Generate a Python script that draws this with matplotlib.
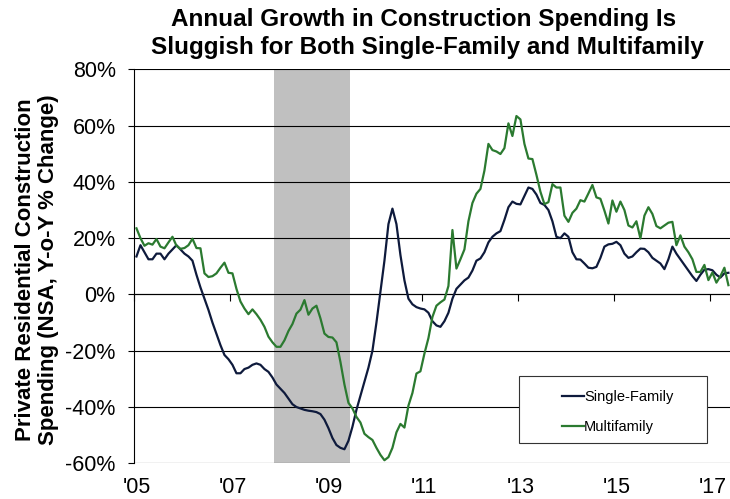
import numpy as np
import matplotlib
matplotlib.use("Agg")
import matplotlib.pyplot as plt
from matplotlib.patches import Rectangle

plt.rcParams["font.family"] = ["Liberation Sans", "DejaVu Sans"]

# Monthly y-o-y % change, Jan 2005 - May 2017
start_year = 2005
single_family = [
    13.5, 17.5, 15, 12.5, 12.5, 14.5, 14.5, 12.5, 14.5, 16,
    17.5, 16, 14.5, 13.5, 12, 7, 2.5, -1.5, -5.5, -10,
    -14, -18, -21.5, -23, -25, -28, -28, -26.5, -26, -25,
    -24.5, -25, -26.5, -27.5, -29.5, -32, -33.5, -35, -37,
    -39, -40, -40.5, -41, -41.3, -41.5, -41.8, -42.5, -44.5, -47.5,
    -51, -53.5, -54.5, -55, -52, -47, -41, -36, -31, -26,
    -20, -10, 1, 12, 25, 30.5, 25, 14, 5, -1.5,
    -3.5, -4.5, -5, -5.3, -6.5,
    -9.5, -11, -11.5, -9.5, -6.5, -1.5, 2, 3.5, 5, 6,
    8.5, 12, 12.8, 15, 18.5, 20.5, 21.7, 22.5, 26.5, 31,
    33, 32.2, 32, 35, 38, 37.5, 35.5, 32.5, 31.8, 30,
    26, 20.5, 20, 21.7, 20.5, 15, 12.5, 12.4, 11, 9.5,
    9.3, 9.8, 13, 17, 17.8, 18, 18.7,
    17.5, 14.5, 13, 13.5, 15, 16.3, 16.2, 15, 13, 12,
    11, 9, 12.5, 17, 14.5, 12.5, 10.5, 8.5, 6.5, 4.8,
    7, 8.8, 9, 8.6, 7, 6, 7.5, 7.7,
]
multifamily = [
    23.5, 20, 17.3, 18.2, 17.7, 19.7, 17, 16.4, 18.5, 20.5,
    17.3, 16.2, 16.5, 17.5, 19.8, 16.5, 16.4, 7.5, 6.2, 6.5,
    7.5, 9.5, 11.3, 7.7, 7.5, 2, -2.5, -5, -7, -5.3,
    -7, -9, -11.5, -15, -17, -18.6, -18.6, -16.3, -13, -10.5,
    -6.8, -5.4, -2, -7.2, -5, -4, -8.5, -13.9, -15.1, -15.3,
    -17, -24, -32, -38.5, -40.5, -43.5, -45.5, -49.5, -50.7, -51.7,
    -54.5, -57, -58.9, -57.8, -54.5, -49, -46, -47.3, -39.5, -35,
    -28.1, -27.3, -21, -15.5, -8, -4, -2.8, -1.8, 3, 22.9,
    9.2, 12.5, 16, 26, 32.5, 35.8, 37.5, 44, 53.5, 51.3,
    50.8, 49.9, 52, 60.8, 56.3, 63.4, 62.2, 53.5, 48.3, 48.1,
    42.5, 36.5, 32.1, 32.8, 39.2, 38, 38, 28, 25.8, 29,
    30.5, 33.5, 33, 35.9, 38.9, 34.5, 34, 29.8, 25.2, 33.4,
    29.4, 33, 30, 24.5, 23.8, 26, 19.9, 28, 31, 28.6,
    24.3, 23.5, 24.5, 25.5, 25.8, 17.5, 21, 17, 15, 12.5,
    8, 8, 10.5, 5.1, 7.8, 4.2, 6.5, 9.5, 3.3,
]
tick_years = [2005, 2007, 2009, 2011, 2013, 2015, 2017]
tick_labels = ["'05", "'07", "'09", "'11", "'13", "'15", "'17"]
y_ticks = [80, 60, 40, 20, 0, -20, -40, -60]
recession = ((2007, 12), (2009, 6))

months = np.arange(len(single_family))


def month_index(year, month=1):
    return (year - start_year) * 12 + (month - 1)


navy = "#0e1a3c"
green = "#2b7a30"

fig = plt.figure(figsize=(7.3, 4.99), dpi=100)
ax = fig.add_axes([0.1842, 0.0715, 0.8158, 0.7896])

# recession shading
rec_start = month_index(*recession[0]) - 0.5
rec_end = month_index(*recession[1]) + 0.5
ax.axvspan(rec_start, rec_end, color="#c0c0c0", lw=0, zorder=1)

ax.plot(months, single_family, color=navy, lw=1.6, label="Single-Family", zorder=3)
ax.plot(months, multifamily, color=green, lw=1.6, label="Multifamily", zorder=3)

ax.set_xlim(-0.5, 148.4)
ax.set_ylim(-60, 80)
ax.set_yticks(y_ticks)
ax.set_yticklabels([f"{v}%" for v in y_ticks])
ax.yaxis.grid(True, color="black", lw=0.8, zorder=2)
ax.set_axisbelow(False)
ax.tick_params(axis="y", length=4.5, width=0.8, pad=9, labelsize=15.5)

ax.set_xticks([month_index(y) for y in tick_years])
ax.set_xticklabels(tick_labels)
ax.tick_params(axis="x", length=0, pad=10, labelsize=15.5)

for side in ["top", "right", "bottom"]:
    ax.spines[side].set_visible(False)
ax.spines["left"].set_linewidth(0.8)

# axis line at 0% with small ticks at year boundaries
zero_pos = (0 - (-60)) / (80 - (-60))
sec = ax.secondary_xaxis(zero_pos)
sec.set_xticks([month_index(y) - 0.5 for y in tick_years])
sec.set_xticklabels([])
sec.tick_params(axis="x", direction="out", length=5, width=0.8)
sec.spines["bottom"].set_linewidth(0.8)

# legend
frame = Rectangle((0.6457, 0.0508), 0.3158, 0.1701, transform=ax.transAxes,
                  facecolor="white", edgecolor="#333333", lw=0.8, zorder=4)
ax.add_patch(frame)
leg = ax.legend(loc="upper left", bbox_to_anchor=(0.700, 0.212), frameon=False,
                fontsize=10.5, handlelength=1.55, handletextpad=0.0,
                labelspacing=1.1, borderpad=0.2)
leg.set_zorder(5)

fig.text(0.051, 0.459, "Private Residential Construction\nSpending (NSA, Y-o-Y % Change)",
         rotation=90, ha="center", va="center", fontsize=16, fontweight="bold",
         linespacing=1.1)

fig.text(0.580, 0.960, "Annual Growth in Construction Spending Is",
         ha="center", va="center", fontsize=17.5, fontweight="bold")
fig.text(0.585, 0.905, "Sluggish for Both Single-Family and Multifamily",
         ha="center", va="center", fontsize=17.5, fontweight="bold")

fig.savefig("out.png", dpi=100)
